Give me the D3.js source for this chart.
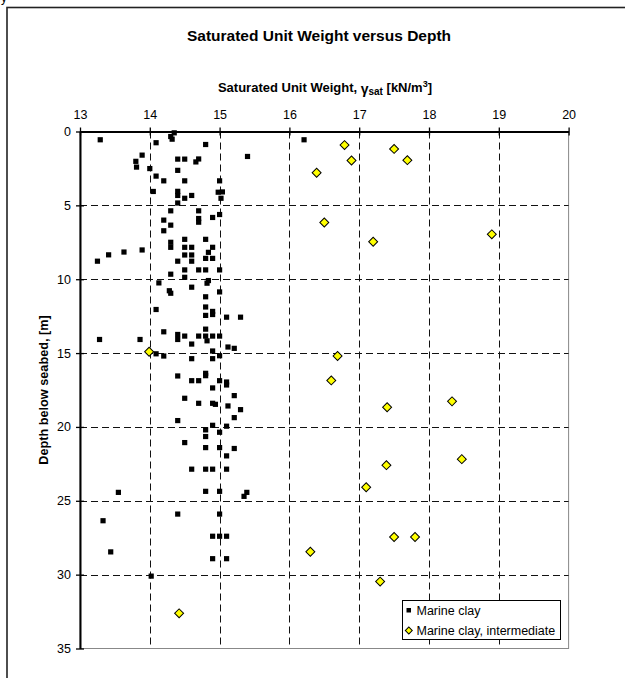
<!DOCTYPE html>
<html>
<head>
<meta charset="utf-8">
<script src="https://cdn.jsdelivr.net/npm/d3@7"></script>
<style>
  html, body { margin: 0; padding: 0; background: #fff; }
  svg { display: block; font-family: Arial, "Liberation Sans", sans-serif; }
</style>
</head>
<body>
<svg id="chart" width="625" height="678"></svg>
<script>
// Marine clay: [saturated unit weight (kN/m3), depth below seabed (m)]
const marineClay = [
  [13.29,0.56],[14.35,0.09],[14.30,0.34],[14.32,0.52],[14.09,0.76],[14.80,0.88],[15.40,1.69],[16.21,0.56],
  [13.89,1.60],[13.80,2.02],[13.81,2.41],[14.00,2.51],[14.40,1.87],[14.50,1.87],[14.70,1.86],[14.66,2.06],
  [14.40,2.63],[14.09,3.02],[14.20,3.34],[14.50,3.34],[15.00,3.34],[14.05,4.06],[14.40,4.05],[14.40,4.33],
  [14.50,4.52],[14.60,4.33],[14.98,4.11],[15.04,4.09],[15.02,4.52],[14.40,4.84],[14.30,5.37],[14.70,5.37],
  [14.70,5.89],[14.70,6.14],[14.90,5.82],[15.00,5.62],[14.20,6.00],[14.30,6.34],[14.20,6.72],[14.30,7.50],
  [14.30,7.84],[14.50,7.30],[14.80,7.30],[14.50,7.84],[14.60,7.84],[14.90,7.84],[14.84,8.18],[14.50,8.36],
  [14.60,8.36],[13.63,8.16],[13.41,8.35],[13.89,8.02],[13.25,8.78],[14.40,8.78],[14.60,8.78],[14.80,8.59],
  [14.90,8.59],[14.30,9.66],[14.50,9.37],[14.50,9.87],[14.70,9.37],[14.80,9.37],[15.00,9.37],[14.84,10.09],
  [14.82,10.27],[14.13,10.25],[14.60,10.54],[15.00,10.86],[14.28,10.78],[14.30,10.95],
  [14.80,11.19],[14.09,12.05],[14.80,11.88],[14.80,12.45],[14.90,12.18],[14.90,12.39],[15.10,12.57],[15.30,12.57],
  [14.80,13.38],[14.20,13.56],[14.40,13.74],[14.40,14.08],[14.50,13.85],[14.70,13.85],[14.80,13.85],[14.82,14.17],
  [14.90,13.85],[15.00,13.85],[13.28,14.08],[13.86,14.08],[14.60,14.39],[15.12,14.59],[15.21,14.68],[14.90,14.86],
  [14.09,15.05],[14.20,15.20],[14.60,15.38],[14.90,15.38],[15.00,15.18],[14.40,16.55],[14.80,16.37],[14.80,16.53],
  [14.60,16.87],[14.70,16.87],[15.00,16.87],[15.10,16.96],[15.10,17.16],[14.90,17.36],[15.21,17.88],[14.50,18.06],
  [14.70,18.40],[14.90,18.40],[14.94,18.47],[15.12,18.58],[15.30,18.83],[15.21,19.37],[14.40,19.57],[14.90,19.89],
  [15.10,19.95],[14.80,20.20],[14.80,20.65],[15.00,20.36],[14.50,21.06],[14.80,21.40],[15.00,21.40],[15.21,21.46],
  [15.10,21.96],[14.60,22.86],[14.80,22.86],[14.90,22.86],[15.10,22.86],[13.55,24.43],[14.80,24.36],[15.00,24.36],
  [15.39,24.43],[15.35,24.70],[13.33,26.35],[14.40,25.90],[15.00,25.90],[14.90,27.40],[15.00,27.40],[15.10,27.40],
  [13.44,28.46],[14.90,28.92],[15.10,28.92],[14.02,30.10]
];

// Marine clay, intermediate
const marineClayIntermediate = [
  [16.79,0.92],[17.50,1.18],[17.69,1.94],[16.89,1.96],[16.39,2.79],[16.50,6.16],[18.90,6.96],[17.20,7.46],
  [13.99,14.91],[16.69,15.20],[16.60,16.85],[18.33,18.27],[17.40,18.67],[18.47,22.18],[17.39,22.59],[17.10,24.08],
  [17.50,27.45],[17.80,27.45],[16.30,28.45],[17.30,30.47],[14.42,32.62]
];

const xTicks = [13, 14, 15, 16, 17, 18, 19, 20];
const yTicks = [0, 5, 10, 15, 20, 25, 30, 35];
const seriesNames = ["Marine clay", "Marine clay, intermediate"];

const svg = d3.select("#chart");

// outer chart frame (runs off the right and bottom edges)
svg.append("rect")
  .attr("x", 7).attr("y", 7.5).attr("width", 640).attr("height", 700)
  .attr("fill", "#fff").attr("stroke", "#222").attr("stroke-width", 1.6);

// fragment of a glyph at the very top-left corner
svg.append("text").attr("x", 1).attr("y", 2).attr("font-size", 12).text("y");

const x = d3.scaleLinear().domain([13, 20]).range([80, 568.6]);
const y = d3.scaleLinear().domain([0, 35]).range([131.5, 648.5]);

// title
svg.append("text")
  .attr("x", 319).attr("y", 40.5)
  .attr("text-anchor", "middle")
  .attr("font-size", 15.5).attr("font-weight", "bold")
  .text("Saturated Unit Weight versus Depth");

// x axis title with subscript / superscript
const xt = svg.append("text")
  .attr("x", 325).attr("y", 92)
  .attr("text-anchor", "middle")
  .attr("font-size", 13).attr("font-weight", "bold");
xt.append("tspan").text("Saturated Unit Weight, ");
xt.append("tspan").attr("font-size", 14).attr("dy", 1.5).text("γ");
xt.append("tspan").attr("font-size", 10).attr("dy", 1).text("sat");
xt.append("tspan").attr("dy", -2.5).text(" [kN/m");
xt.append("tspan").attr("font-size", 9).attr("dy", -5.5).text("3");
xt.append("tspan").attr("dy", 5.5).text("]");

// y axis title
svg.append("text")
  .attr("transform", `translate(47.5, ${(y(0) + y(35)) / 2}) rotate(-90)`)
  .attr("text-anchor", "middle")
  .attr("font-size", 12.7).attr("font-weight", "bold")
  .text("Depth below seabed, [m]");

// plot area border (right and bottom)
svg.append("rect")
  .attr("x", x(13)).attr("y", y(0))
  .attr("width", x(20) - x(13)).attr("height", y(35) - y(0))
  .attr("fill", "none").attr("stroke", "#888").attr("stroke-width", 1);

// dashed gridlines
const grid = svg.append("g").attr("stroke", "#111").attr("stroke-width", 1)
  .attr("stroke-dasharray", "7,4");
grid.selectAll("line.v").data(xTicks.slice(1, -1)).join("line")
  .attr("class", "v")
  .attr("x1", d => Math.round(x(d)) + 0.5).attr("x2", d => Math.round(x(d)) + 0.5)
  .attr("y1", y(0)).attr("y2", y(35));
grid.selectAll("line.h").data(yTicks.slice(1, -1)).join("line")
  .attr("class", "h")
  .attr("y1", d => Math.round(y(d)) + 0.5).attr("y2", d => Math.round(y(d)) + 0.5)
  .attr("x1", x(13)).attr("x2", x(20));

// axes (ticks cross the axis line)
const xAxis = svg.append("g").attr("transform", `translate(0,${y(0)})`)
  .call(d3.axisTop(x).tickValues(xTicks).tickSize(4).tickSizeOuter(0).tickFormat(d3.format("d")));
xAxis.selectAll(".tick line").attr("y2", -4).attr("y1", 4).attr("stroke-width", 1.3);
xAxis.selectAll(".tick text").attr("y", -13).attr("font-size", 12.5)
  .attr("font-family", "Arial, 'Liberation Sans', sans-serif");
xAxis.select(".domain").attr("stroke-width", 2);

const yAxis = svg.append("g").attr("transform", `translate(${x(13)},0)`)
  .call(d3.axisLeft(y).tickValues(yTicks).tickSize(4).tickSizeOuter(0).tickFormat(d3.format("d")));
yAxis.selectAll(".tick line").attr("x2", -4).attr("x1", 4).attr("stroke-width", 1.3);
yAxis.selectAll(".tick text").attr("x", -9).attr("font-size", 12.5)
  .attr("font-family", "Arial, 'Liberation Sans', sans-serif");
yAxis.select(".domain").attr("stroke-width", 2);

// markers
const sq = 5.2;
svg.append("g").selectAll("rect").data(marineClay).join("rect")
  .attr("x", d => x(d[0]) - sq / 2).attr("y", d => y(d[1]) - sq / 2)
  .attr("width", sq).attr("height", sq).attr("fill", "#000");

const diamond = d3.symbol().type(d3.symbolSquare).size(40);
svg.append("g").selectAll("path").data(marineClayIntermediate).join("path")
  .attr("transform", d => `translate(${x(d[0])},${y(d[1])}) rotate(45)`)
  .attr("d", diamond)
  .attr("fill", "#ffff00").attr("stroke", "#000").attr("stroke-width", 1);

// legend
const lg = svg.append("g").attr("transform", "translate(402,600)");
lg.append("rect").attr("x", 0.5).attr("y", 0.5).attr("width", 158).attr("height", 39)
  .attr("fill", "#fff").attr("stroke", "#000").attr("stroke-width", 1);
lg.append("rect").attr("x", 4.5).attr("y", 8).attr("width", 4.5).attr("height", 4.5).attr("fill", "#000");
lg.append("path").attr("transform", "translate(6.8,30.5) rotate(45)")
  .attr("d", d3.symbol().type(d3.symbolSquare).size(24))
  .attr("fill", "#ffff00").attr("stroke", "#000").attr("stroke-width", 1);
lg.selectAll("text").data(seriesNames).join("text")
  .attr("x", 14.5).attr("y", (d, i) => 10.5 + i * 20)
  .attr("dy", "0.35em").attr("font-size", 12.5).text(d => d);
</script>
</body>
</html>
